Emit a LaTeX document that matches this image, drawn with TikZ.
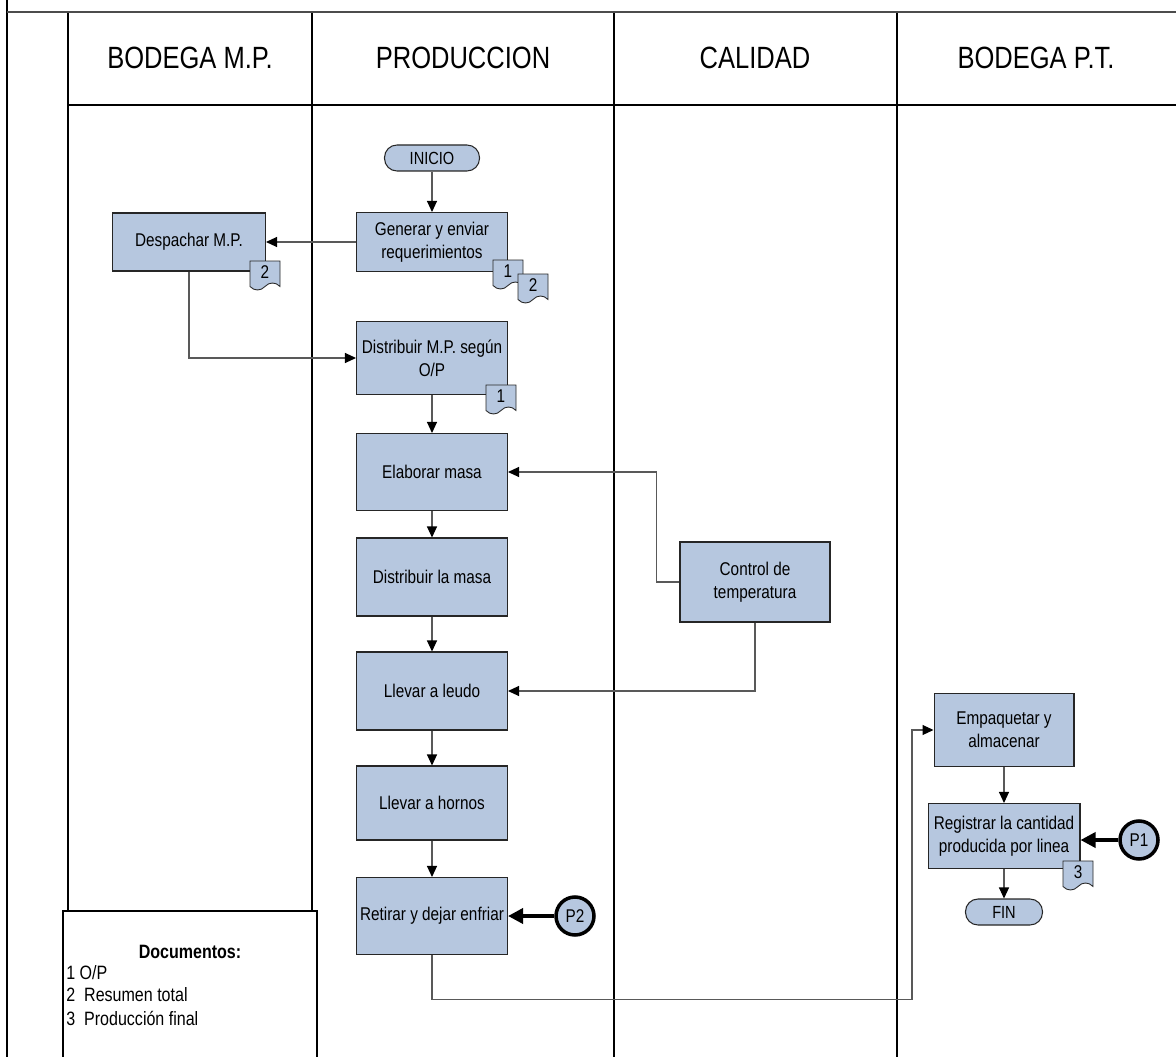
\documentclass[tikz,border=0pt]{standalone}
\usepackage{fontspec}
\setmainfont{Liberation Sans}[FakeStretch=0.83]
\usetikzlibrary{arrows.meta,shapes.symbols}
\definecolor{azulcaja}{RGB}{182,199,223}
\tikzset{
  carril/.style={black, line width=0.7pt},
  marco/.style={black!70, line width=1.4pt},
  cabecera/.style={font=\fontsize{17.5}{20}\selectfont, inner sep=0pt},
  caja/.style={rectangle, draw=black!85, fill=azulcaja, line width=0.6pt, align=center, inner sep=2pt, font=\fontsize{10.5}{13}\selectfont},
  terminal/.style={caja, rounded corners=0.25cm, font=\fontsize{10}{12}\selectfont},
  doc/.style={tape, tape bend top=none, tape bend bottom=in and out, tape bend height=0.14cm, draw=black!85, fill=azulcaja, line width=0.5pt, minimum width=0.6cm, minimum height=0.58cm, inner sep=0pt, font=\fontsize{10.5}{12}\selectfont},
  conector/.style={circle, draw=black, line width=2pt, fill=azulcaja, minimum size=0.76cm, inner sep=0pt, font=\fontsize{10.5}{12}\selectfont},
  flecha/.style={-{Triangle[length=2.2mm, width=2mm, color=black]}, black!65, line width=0.6pt},
  flechagruesa/.style={-{Triangle[length=3mm, width=3mm]}, black, line width=2pt},
  leyenda/.style={font=\fontsize{11}{13}\selectfont, inner sep=0pt},
}

\begin{document}
\begin{tikzpicture}[x=0.02cm, y=-0.02cm]
  \useasboundingbox (0,0) rectangle (1176,1057);

  % ---------------- carriles ----------------
  \draw[carril] (7,0) -- (7,1057);
  \foreach \cx in {68,312,614,897} { \draw[carril] (\cx,12) -- (\cx,1057); }
  \draw[carril] (68,105) -- (1176,105);
  \draw[marco] (7,12) -- (1176,12);
  \node[cabecera] (hBMP) at (190,58)  {BODEGA M.P.};
  \node[cabecera] (hPRO) at (463,58)  {PRODUCCION};
  \node[cabecera] (hCAL) at (755,58)  {CALIDAD};
  \node[cabecera] (hBPT) at (1036,58) {BODEGA P.T.};

  % ---------------- actividades ----------------
  \node[terminal, minimum width=1.9cm, minimum height=0.52cm] (inicio) at (432,158) {INICIO};
  \node[caja, minimum width=3.02cm, minimum height=1.18cm] (generar) at (432,242) {Generar y enviar\\requerimientos};
  \node[caja, minimum width=3.06cm, minimum height=1.16cm] (despachar) at (189,242) {Despachar M.P.};
  \node[caja, minimum width=3.02cm, minimum height=1.46cm] (distmp) at (432,358) {Distribuir M.P. según\\O/P};
  \node[caja, minimum width=3.02cm, minimum height=1.54cm] (elaborar) at (432,472) {Elaborar masa};
  \node[caja, minimum width=3.02cm, minimum height=1.56cm] (distmasa) at (432,577) {Distribuir la masa};
  \node[caja, minimum width=3.02cm, minimum height=1.56cm] (leudo) at (432,691) {Llevar a leudo};
  \node[caja, minimum width=3.02cm, minimum height=1.48cm] (hornos) at (432,803) {Llevar a hornos};
  \node[caja, minimum width=3.02cm, minimum height=1.54cm] (retirar) at (432,916) {Retirar y dejar enfriar};
  \node[caja, minimum width=3.0cm, minimum height=1.6cm] (control) at (755,582) {Control de\\temperatura};
  \node[caja, minimum width=2.8cm, minimum height=1.46cm] (empaquetar) at (1004,730) {Empaquetar y\\almacenar};
  \node[caja, minimum width=3.04cm, minimum height=1.3cm] (registrar) at (1004,836) {Registrar la cantidad\\producida por linea};
  \node[terminal, minimum width=1.54cm, minimum height=0.52cm] (fin) at (1004,912) {FIN};

  % documentos
  \node[doc] (docGen1) at (508,271) {1};
  \node[doc] (docGen2) at (533,285) {2};
  \node[doc] (docDes2) at (265,272) {2};
  \node[doc] (docDis1) at (501,396) {1};
  \node[doc] (docReg3) at (1078,872) {3};

  % conectores de página
  \node[conector] (p2) at (575,916) {P2};
  \node[conector] (p1) at (1139,840) {P1};

  % ---------------- flujo ----------------
  \draw[flecha] (inicio) -- (generar);
  \draw[flecha] (generar) -- (despachar);
  \draw[flecha] (despachar.south) |- (distmp.west);
  \draw[flecha] (distmp) -- (elaborar);
  \draw[flecha] (elaborar) -- (distmasa);
  \draw[flecha] (distmasa) -- (leudo);
  \draw[flecha] (leudo) -- (hornos);
  \draw[flecha] (hornos) -- (retirar);
  \draw[flecha] (control.west) -- ++(-23,0) |- (elaborar.east);
  \draw[flecha] (control.south) |- (leudo.east);
  \draw[flecha] (retirar.south) -- ++(0,44) -| (912,730) -- (empaquetar.west);
  \draw[flecha] (empaquetar) -- (registrar);
  \draw[flecha] (registrar) -- (fin);
  \draw[flechagruesa] (p2) -- (retirar);
  \draw[flechagruesa] (p1.west) -- (p1.west -| registrar.east);

  % ---------------- leyenda ----------------
  \draw[carril, fill=white] (63,1070) -- (63,911) -- (317,911) -- (317,1070);
  \node[leyenda, font=\fontsize{11}{13}\selectfont\bfseries] (titdoc) at (190,952) {Documentos:};
  \node[leyenda, anchor=west] (ley1) at (66,973)  {1 O/P};
  \node[leyenda, anchor=west] (ley2) at (66,995)  {2\ \ Resumen total};
  \node[leyenda, anchor=west] (ley3) at (66,1018) {3\ \ Producción final};
\end{tikzpicture}
\end{document}
